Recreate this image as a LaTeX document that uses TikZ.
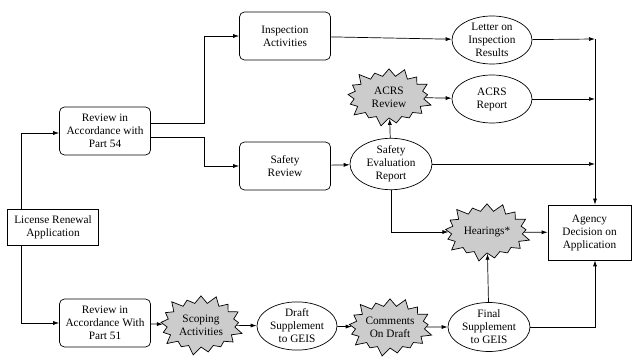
\documentclass[tikz,border=0pt]{standalone}
\usepackage{fontspec}
\setmainfont{Liberation Serif}
\usetikzlibrary{shapes.geometric,shapes.symbols,arrows.meta}

\begin{document}
\begin{tikzpicture}[x=1pt,y=-1pt,
    font=\fontsize{11.3}{13}\selectfont,
    >={Latex[length=6pt,width=4pt]},
    every path/.style={line width=0.7pt},
    box/.style={draw,align=center,minimum width=91pt,minimum height=36pt,inner sep=2pt},
    rbox/.style={box,rounded corners=5pt,minimum height=48pt},
    oval/.style={draw,ellipse,align=center,minimum width=80pt,minimum height=48pt,inner sep=0pt},
    burst/.style={draw,starburst,starburst points=17,starburst point height=10pt,fill=gray!40,align=center,minimum width=90pt,minimum height=62pt,inner sep=0pt}]
  \useasboundingbox (0,0) rectangle (632,358);

  \node[box] (lra) at (53,227) {License Renewal\\Application};
  \node[rbox] (rev54) at (105,131) {Review in\\Accordance with\\Part 54};
  \node[rbox] (rev51) at (105,323) {Review in\\Accordance With\\Part 51};
  \node[rbox] (insp) at (285,36) {Inspection\\Activities};
  \node[rbox] (safrev) at (285,166) {Safety\\Review};
  \node[oval] (letter) at (492,40) {Letter on\\Inspection\\Results};
  \node[oval] (acrsrep) at (492,99) {ACRS\\Report};
  \node[burst] (acrsrev) at (389,97) {ACRS\\Review};
  \node[oval,minimum width=82pt,minimum height=44pt] (ser) at (391,164) {Safety\\Evaluation\\Report};
  \node[burst,minimum width=91pt] (hear) at (487,232) {Hearings*};
  \node[box,minimum width=83pt,minimum height=55pt] (agency) at (589.5,232.5) {Agency\\Decision on\\Application};
  \node[oval,minimum width=82pt,minimum height=49pt] (final) at (489,327) {Final\\Supplement\\to GEIS};
  \node[burst,minimum width=87pt] (comm) at (390,327) {Comments\\On Draft};
  \node[oval,minimum height=48pt] (draft) at (297,326) {Draft\\Supplement\\to GEIS};
  \node[burst,minimum width=88pt,minimum height=64pt] (scop) at (201,325) {Scoping\\Activities};

  \coordinate (bus) at (595,39);

  \draw[->] ([xshift=14pt]lra.north west) |- ([yshift=-2pt]rev54.west);
  \draw[->] ([xshift=14pt]lra.south west) |- (rev51.west);
  \draw[->] ([yshift=8pt]rev54.east) -- ++(53,0) |- (insp.west);
  \draw[->] ([yshift=-6pt]rev54.east) -- ++(53,0) |- (safrev.west);
  \draw[->] (insp) -- (letter);
  \draw[->] (safrev) -- (ser);
  \draw[->] (ser) -- (acrsrev);
  \draw[->] (acrsrev) -- (acrsrep);
  \draw[->] (letter) -- (bus);
  \draw[->] (acrsrep) -- (acrsrep -| bus);
  \draw[->] (ser) -- (ser -| bus);
  \draw[->] (bus) -- (bus |- agency.north);
  \draw[->] (ser.south) |- (hear);
  \draw[->] (hear) -- (agency);
  \draw[->] (rev51) -- (scop);
  \draw[->] (scop) -- (draft);
  \draw[->] (draft) -- (comm);
  \draw[->] (comm) -- (final);
  \draw[->] (final) -- (hear);
  \draw[->] (final) -| (bus |- agency.south);
\end{tikzpicture}
\end{document}
